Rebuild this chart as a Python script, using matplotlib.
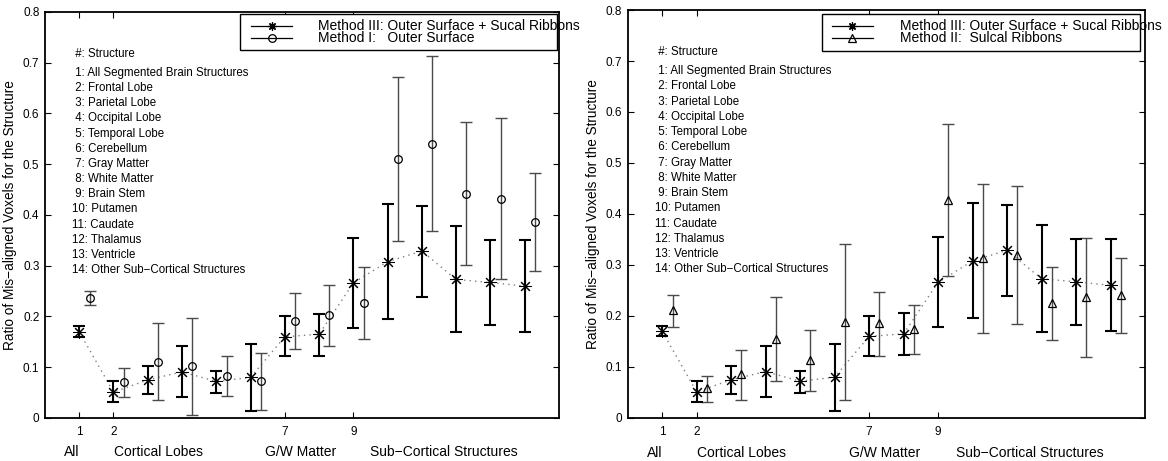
import numpy as np
import matplotlib
matplotlib.use("Agg")
import matplotlib.pyplot as plt
from matplotlib.patches import Rectangle
from matplotlib.lines import Line2D
from matplotlib.transforms import blended_transform_factory

plt.rcParams['font.family'] = ['Liberation Sans', 'DejaVu Sans']

# Structure index 1..14
structure_idx = np.arange(1, 15)
tick_positions = [1, 2, 7, 9]

structures = [
    "All Segmented Brain Structures", "Frontal Lobe", "Parietal Lobe",
    "Occipital Lobe", "Temporal Lobe", "Cerebellum", "Gray Matter",
    "White Matter", "Brain Stem", "Putamen", "Caudate", "Thalamus",
    "Ventricle", "Other Sub\u2212Cortical Structures",
]

group_labels = ["All", "Cortical Lobes", "G/W Matter", "Sub\u2212Cortical Structures"]
group_centers = [0.77, 3.3, 7.45, 11.65]

# Method III: outer surface + sulcal ribbons
m3_mean = [0.170, 0.051, 0.075, 0.091, 0.072, 0.080, 0.160, 0.165, 0.266, 0.308, 0.329, 0.273, 0.267, 0.260]
m3_hi = [0.181, 0.073, 0.102, 0.141, 0.093, 0.146, 0.200, 0.205, 0.355, 0.421, 0.418, 0.379, 0.351, 0.351]
m3_lo = [0.160, 0.031, 0.047, 0.042, 0.049, 0.014, 0.122, 0.123, 0.178, 0.196, 0.239, 0.169, 0.183, 0.170]

# Method I: outer surface
m1_mean = [0.237, 0.070, 0.111, 0.102, 0.083, 0.073, 0.191, 0.202, 0.227, 0.510, 0.540, 0.442, 0.432, 0.386]
m1_hi = [0.251, 0.099, 0.187, 0.198, 0.123, 0.129, 0.247, 0.262, 0.298, 0.672, 0.713, 0.583, 0.592, 0.482]
m1_lo = [0.223, 0.042, 0.035, 0.006, 0.044, 0.016, 0.136, 0.142, 0.156, 0.349, 0.368, 0.301, 0.274, 0.290]

# Method II: sulcal ribbons
m2_mean = [0.212, 0.058, 0.086, 0.155, 0.114, 0.188, 0.186, 0.175, 0.427, 0.313, 0.320, 0.225, 0.238, 0.241]
m2_hi = [0.241, 0.083, 0.133, 0.238, 0.173, 0.341, 0.247, 0.222, 0.576, 0.458, 0.454, 0.297, 0.353, 0.314]
m2_lo = [0.179, 0.031, 0.035, 0.072, 0.053, 0.035, 0.122, 0.125, 0.278, 0.167, 0.184, 0.152, 0.120, 0.167]

label_m3 = "Method III: Outer Surface + Sucal Ribbons"
label_m1 = "Method I:   Outer Surface"
label_m2 = "Method II:  Sulcal Ribbons"

ASTERISK = (8, 2, 0)
OFFSET = 0.3

fig = plt.figure(figsize=(11.68, 4.61), dpi=100)
ax_l = fig.add_axes([0.0385, 0.0933, 0.4400, 0.8807])
ax_r = fig.add_axes([0.5374, 0.0933, 0.4429, 0.8850])


def draw_panel(ax, mean, lo, hi, marker, msize, label, box, handle_x, text_x, rows):
    x = structure_idx
    m3 = np.array(m3_mean)
    err3 = [m3 - np.array(m3_lo), np.array(m3_hi) - m3]
    ax.plot(x, m3, linestyle=(0, (1, 3)), color='#808080', lw=1.0, zorder=1)
    ax.errorbar(x, m3, yerr=err3, fmt='none', ecolor='black', elinewidth=1.5,
                capsize=4, capthick=1.5, zorder=3)
    ax.plot(x, m3, linestyle='none', marker=ASTERISK, ms=9, mew=0.75,
            color='black', zorder=4)

    mo = np.array(mean)
    erro = [mo - np.array(lo), np.array(hi) - mo]
    xo = x + OFFSET
    ax.errorbar(xo, mo, yerr=erro, fmt='none', ecolor='#4a4a4a', elinewidth=1.0,
                capsize=4, capthick=1.0, zorder=2)
    ax.plot(xo, mo, linestyle='none', marker=marker, ms=msize, mew=0.9,
            mfc='none', mec='black', zorder=4)

    ax.set_xlim(0, 15)
    ax.set_ylim(0, 0.8)
    ax.set_xticks(tick_positions)
    ax.set_yticks(np.round(np.arange(0, 0.81, 0.1), 1))
    ax.set_yticklabels(['0'] + [f"{v:.1f}" for v in np.arange(0.1, 0.81, 0.1)])
    ax.tick_params(direction='in', length=4, width=0.8, top=True, right=True,
                   labelsize=8.5, pad=4)
    ax.tick_params(axis='x', pad=6)
    for sp in ax.spines.values():
        sp.set_linewidth(1.3)
    ax.set_ylabel("Ratio of Mis\u2212aligned Voxels for the Structure", fontsize=9.8, labelpad=4)

    # Structure key
    ax.text(0.78, 0.717, " #: Structure", fontsize=8.3, va='center', ha='left')
    for i, name in enumerate(structures):
        num = f"{i + 1}" if i >= 9 else f" {i + 1}"
        ax.text(0.78, 0.680 - 0.0299 * i, f"{num}: {name}", fontsize=8.3,
                va='center', ha='left')

    # Group labels beneath the axis
    tr = blended_transform_factory(ax.transData, ax.transAxes)
    for g, c in zip(group_labels, group_centers):
        ax.text(c, -0.085, g, transform=tr, fontsize=10, ha='center', va='center')

    # Legend box
    x0, y0, x1, y1 = box
    ax.add_patch(Rectangle((x0, y0), x1 - x0, y1 - y0, transform=ax.transAxes,
                           facecolor='white', edgecolor='black', lw=1.0, zorder=5))
    hx0, hx1 = handle_x
    hm = (hx0 + hx1) / 2
    specs = [(ASTERISK, 6, 'black', label_m3), (marker, msize, 'none', label)]
    for (mk, ms, fc, txt), ry in zip(specs, rows):
        ax.add_line(Line2D([hx0, hx1], [ry, ry], transform=ax.transAxes,
                           color='black', lw=0.9, zorder=6))
        ax.add_line(Line2D([hm], [ry], transform=ax.transAxes, marker=mk,
                           ms=ms, mfc=fc, mec='black', mew=0.9, color='black', zorder=6))
        ax.text(text_x, ry, txt, transform=ax.transAxes, fontsize=10,
                va='center', ha='left', zorder=7, clip_on=False)


draw_panel(ax_l, m1_mean, m1_lo, m1_hi, 'o', 5.5, label_m1,
           (0.379, 0.906, 0.996, 0.995), (0.401, 0.481), 0.531, (0.966, 0.937))
draw_panel(ax_r, m2_mean, m2_lo, m2_hi, '^', 6, label_m2,
           (0.375, 0.900, 0.990, 0.990), (0.395, 0.474), 0.526, (0.960, 0.931))

fig.savefig("out.png", dpi=100)
